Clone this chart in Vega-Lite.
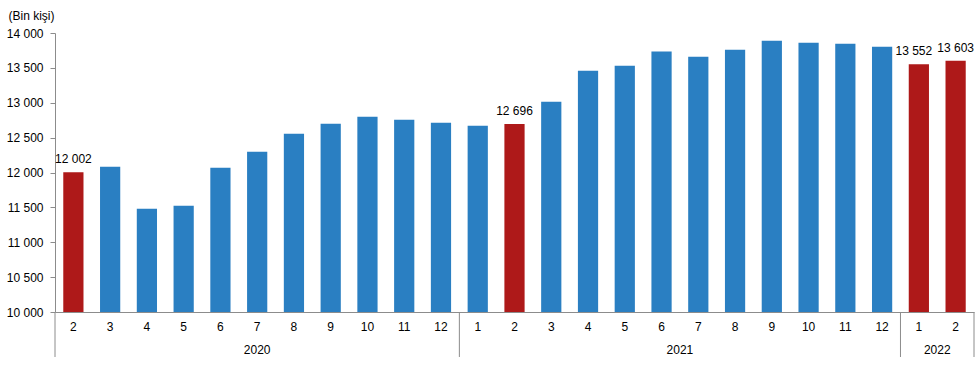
{
  "$schema": "https://vega.github.io/schema/vega-lite/v6.json",
  "width": 919,
  "height": 279,
  "autosize": {"type": "none"},
  "padding": {"left": 55, "top": 33, "right": 6, "bottom": 55},
  "background": "white",
  "config": {
    "locale": {"number": {"decimal": ",", "thousands": " ", "grouping": [3], "currency": ["", ""]}},
    "font": "Liberation Sans",
    "view": {"stroke": null},
    "axis": {"labelFont": "Liberation Sans", "labelFontSize": 12, "labelColor": "#000", "domainColor": "#8c8c8c", "tickColor": "#8c8c8c", "grid": false}
  },
  "resolve": {"axis": {"x": "independent", "y": "independent"}},
  "data": {"values": [
    {"key": "2020-2", "value": 12002},
    {"key": "2020-3", "value": 12084},
    {"key": "2020-4", "value": 11481},
    {"key": "2020-5", "value": 11524},
    {"key": "2020-6", "value": 12069},
    {"key": "2020-7", "value": 12299},
    {"key": "2020-8", "value": 12557},
    {"key": "2020-9", "value": 12700},
    {"key": "2020-10", "value": 12801},
    {"key": "2020-11", "value": 12758},
    {"key": "2020-12", "value": 12715},
    {"key": "2021-1", "value": 12672},
    {"key": "2021-2", "value": 12696},
    {"key": "2021-3", "value": 13016},
    {"key": "2021-4", "value": 13460},
    {"key": "2021-5", "value": 13532},
    {"key": "2021-6", "value": 13733},
    {"key": "2021-7", "value": 13661},
    {"key": "2021-8", "value": 13761},
    {"key": "2021-9", "value": 13890},
    {"key": "2021-10", "value": 13862},
    {"key": "2021-11", "value": 13847},
    {"key": "2021-12", "value": 13804},
    {"key": "2022-1", "value": 13552},
    {"key": "2022-2", "value": 13603}
  ]},
  "layer": [
    {
      "mark": {"type": "bar", "width": {"band": 0.55}},
      "encoding": {
        "x": {"field": "key", "type": "ordinal", "sort": null,
          "scale": {"paddingInner": 0, "paddingOuter": 0},
          "axis": {"title": null, "labelAngle": 0, "ticks": false, "labelPadding": 9, "labelExpr": "substring(datum.value, 5)", "labelOverlap": false, "domainWidth": 1}},
        "y": {"field": "value", "type": "quantitative",
          "scale": {"domain": [10000, 14000], "zero": false, "nice": false},
          "axis": {"values": [10000, 10500, 11000, 11500, 12000, 12500, 13000, 13500, 14000], "format": ",.0f", "tickSize": 5, "labelPadding": 7, "labelOverlap": false, "labelFlush": false,
            "title": "(Bin kişi)", "titleAngle": 0, "titleAlign": "left", "titleBaseline": "middle", "titleX": -47, "titleY": -18,
            "titleFont": "Liberation Sans", "titleFontSize": 12, "titleFontWeight": "normal", "titleColor": "#000"}},
        "y2": {"datum": 10000},
        "color": {"condition": {"test": "indexof(['2020-2','2021-2','2022-1','2022-2'], datum.key) >= 0", "value": "#AE1919"}, "value": "#2A7FC2"}
      }
    },
    {
      "transform": [{"filter": "indexof(['2020-2','2021-2','2022-2'], datum.key) >= 0"}],
      "mark": {"type": "text", "baseline": "bottom", "dy": -6, "fontSize": 12, "color": "#000"},
      "encoding": {
        "x": {"field": "key", "type": "ordinal", "sort": null, "axis": null},
        "y": {"field": "value", "type": "quantitative", "axis": null},
        "text": {"field": "value", "type": "quantitative", "format": ","}
      }
    },
    {
      "transform": [{"filter": "datum.key == '2022-1'"}],
      "mark": {"type": "text", "baseline": "bottom", "dy": -6, "dx": -5, "fontSize": 12, "color": "#000"},
      "encoding": {
        "x": {"field": "key", "type": "ordinal", "sort": null, "axis": null},
        "y": {"field": "value", "type": "quantitative", "axis": null},
        "text": {"field": "value", "type": "quantitative", "format": ","}
      }
    },
    {
      "data": {"values": [{"key": "2020-7", "year": "2020"}]},
      "mark": {"type": "text", "baseline": "middle", "fontSize": 12, "color": "#000"},
      "encoding": {
        "x": {"field": "key", "type": "ordinal", "sort": null, "bandPosition": 0.5, "axis": null},
        "y": {"datum": 9460, "axis": null},
        "text": {"field": "year"}
      }
    },
    {
      "data": {"values": [{"key": "2021-6", "year": "2021"}, {"key": "2022-1", "year": "2022"}]},
      "mark": {"type": "text", "baseline": "middle", "fontSize": 12, "color": "#000"},
      "encoding": {
        "x": {"field": "key", "type": "ordinal", "sort": null, "bandPosition": 1, "axis": null},
        "y": {"datum": 9460, "axis": null},
        "text": {"field": "year"}
      }
    },
    {
      "data": {"values": [{"key": "2020-2"}, {"key": "2021-1"}, {"key": "2022-1"}]},
      "mark": {"type": "rule", "color": "#8c8c8c", "strokeWidth": 1},
      "encoding": {
        "x": {"field": "key", "type": "ordinal", "sort": null, "bandPosition": 0, "axis": null},
        "y": {"datum": 10000, "axis": null},
        "y2": {"datum": 9355}
      }
    },
    {
      "data": {"values": [{"key": "2022-2"}]},
      "mark": {"type": "rule", "color": "#8c8c8c", "strokeWidth": 1},
      "encoding": {
        "x": {"field": "key", "type": "ordinal", "sort": null, "bandPosition": 1, "axis": null},
        "y": {"datum": 10000, "axis": null},
        "y2": {"datum": 9355}
      }
    }
  ]
}
